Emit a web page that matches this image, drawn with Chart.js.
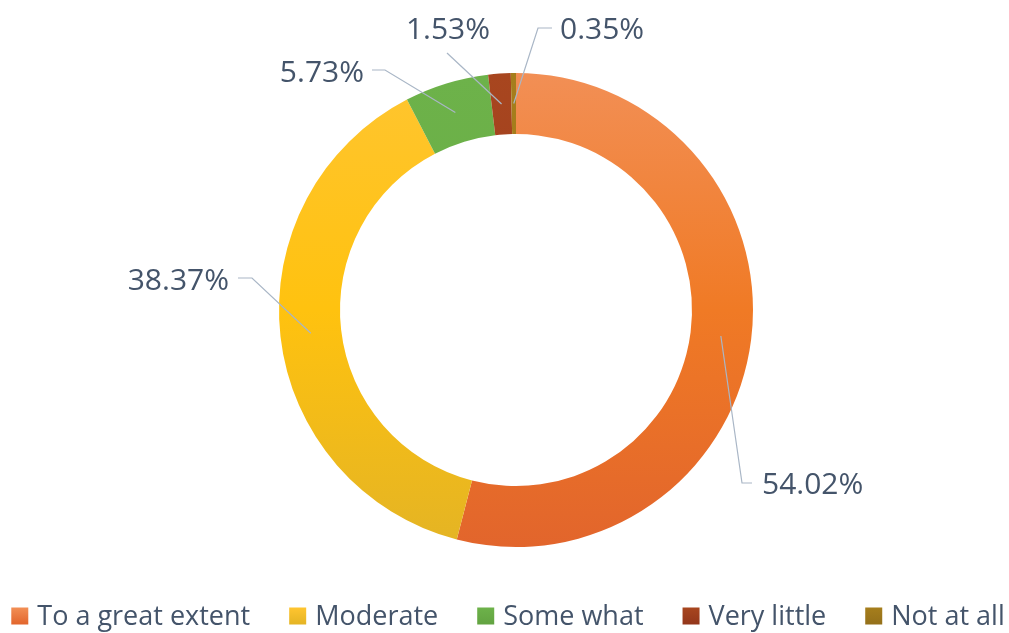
<!DOCTYPE html>
<html>
<head>
<meta charset="utf-8">
<script src="https://cdn.jsdelivr.net/npm/chart.js@4.4.0/dist/chart.umd.min.js"></script>
<style>
  html, body { margin: 0; padding: 0; background: #fff; }
  #wrap { width: 1009px; height: 633px; position: relative; }
</style>
</head>
<body>
<div id="wrap"><canvas id="donut"></canvas></div>
<script>
// --- Data ---
const categories = ['To a great extent', 'Moderate', 'Some what', 'Very little', 'Not at all'];
const shares = [54.02, 38.37, 5.73, 1.53, 0.35];

// --- Styles ---
const topColors = ['#F28F55', '#FFC530', '#6DB24A', '#A8461F', '#A67E1C'];
const midColors = ['#F07A25', '#FFC20F', '#6AAE45', '#9E3D1D', '#9F7919'];
const botColors = ['#E2652C', '#E4B424', '#62A341', '#93361B', '#94701A'];
const textColor = '#44546A';
const leaderColor = '#A9B6C6';
const font = '"Open Sans", "Liberation Sans", sans-serif';
const outerR = 237;
const innerR = 176;

// label placement relative to the doughnut centre: elbow point, line end, text anchor, alignment
const labelLayout = [
  { elbow: [226, 173], end: [236, 173], text: [246, 175], align: 'left' },
  { elbow: [-264, -32], end: [-278, -32], text: [-287, -29], align: 'right' },
  { elbow: [-131, -240], end: [-144, -240], text: [-152, -237], align: 'right' },
  { elbow: [-69, -257], end: [-69, -257], text: [-68, -280], align: 'center' },
  { elbow: [22, -282], end: [36, -282], text: [44, -280], align: 'left' }
];

function gradientFor(c) {
  const area = c.chart.chartArea;
  if (!area) return midColors[c.dataIndex];
  const cy = (area.top + area.bottom) / 2;
  const g = c.chart.ctx.createLinearGradient(0, cy - outerR, 0, cy + outerR);
  g.addColorStop(0, topColors[c.dataIndex]);
  g.addColorStop(0.5, midColors[c.dataIndex]);
  g.addColorStop(1, botColors[c.dataIndex]);
  return g;
}

const leaderLabels = {
  id: 'leaderLabels',
  afterDatasetsDraw(chart) {
    const ctx = chart.ctx;
    const meta = chart.getDatasetMeta(0);
    ctx.save();
    meta.data.forEach((arc, i) => {
      const p = arc.getCenterPoint();
      const L = labelLayout[i];
      const cx = arc.x, cy = arc.y;
      ctx.strokeStyle = leaderColor;
      ctx.lineWidth = 1.2;
      ctx.beginPath();
      ctx.moveTo(p.x, p.y);
      ctx.lineTo(cx + L.elbow[0], cy + L.elbow[1]);
      ctx.lineTo(cx + L.end[0], cy + L.end[1]);
      ctx.stroke();
      ctx.fillStyle = textColor;
      ctx.font = '30px ' + font;
      ctx.textAlign = L.align;
      ctx.textBaseline = 'middle';
      ctx.fillText(shares[i].toFixed(2) + '%', cx + L.text[0], cy + L.text[1]);
    });
    ctx.restore();
  }
};

// bottom legend, laid out like the office chart (tight box/text gap, wide item gap)
const bottomLegend = {
  id: 'bottomLegend',
  afterDraw(chart) {
    const ctx = chart.ctx;
    const box = 17, boxGap = 9, itemGap = 39, midY = 616;
    ctx.save();
    ctx.font = '27px ' + font;
    ctx.textBaseline = 'middle';
    ctx.textAlign = 'left';
    const widths = categories.map(c => ctx.measureText(c).width);
    const total = widths.reduce((s, w) => s + box + boxGap + w, 0) + itemGap * (categories.length - 1);
    let x = 508 - total / 2;
    categories.forEach((c, i) => {
      const g = ctx.createLinearGradient(0, midY - box / 2, 0, midY + box / 2);
      g.addColorStop(0, topColors[i]);
      g.addColorStop(1, botColors[i]);
      ctx.fillStyle = g;
      ctx.fillRect(x, midY - box / 2, box, box);
      x += box + boxGap;
      ctx.fillStyle = textColor;
      ctx.fillText(c, x, midY + 1);
      x += widths[i] + itemGap;
    });
    ctx.restore();
  }
};

new Chart(document.getElementById('donut'), {
  type: 'doughnut',
  data: {
    labels: categories,
    datasets: [{
      data: shares,
      backgroundColor: gradientFor,
      borderWidth: 0,
      radius: outerR,
      cutout: (innerR / outerR * 100) + '%'
    }]
  },
  options: {
    responsive: true,
    maintainAspectRatio: false,
    animation: false,
    layout: { padding: { top: 60, left: 23, right: 0, bottom: 73 } },
    plugins: {
      tooltip: { enabled: false },
      legend: { display: false }
    }
  },
  plugins: [leaderLabels, bottomLegend]
});
</script>
</body>
</html>
